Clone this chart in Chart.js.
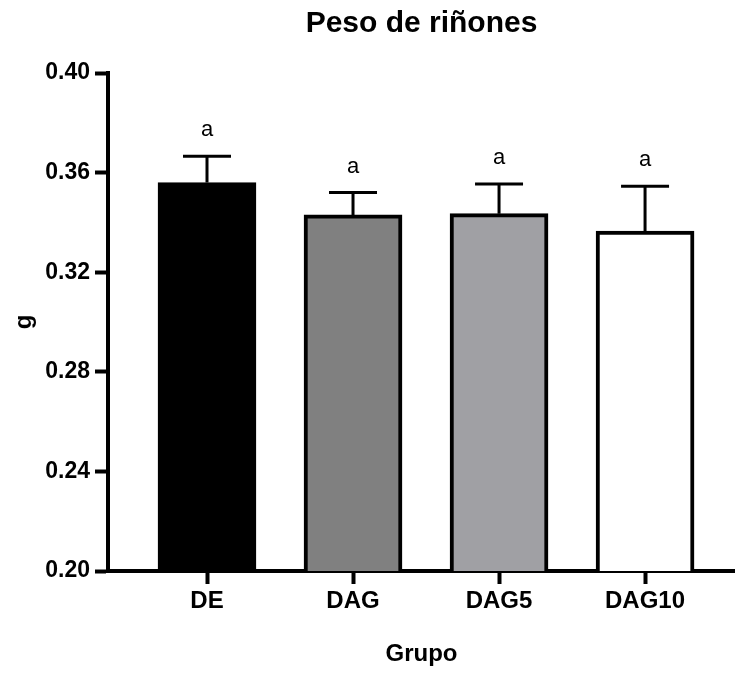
<!DOCTYPE html>
<html>
<head>
<meta charset="utf-8">
<script src="https://cdn.jsdelivr.net/npm/chart.js@4"></script>
<style>
  html, body { margin: 0; padding: 0; background: #fff; }
  #wrap { width: 735px; height: 673px; }
</style>
</head>
<body>
<div id="wrap"><canvas id="kidneyChart"></canvas></div>
<script>
// data
const grupos = ['DE', 'DAG', 'DAG5', 'DAG10'];
const pesoMedio = [0.356, 0.343, 0.3435, 0.3365];
const pesoSem = [0.0106, 0.009, 0.0119, 0.018];
const letras = ['a', 'a', 'a', 'a'];
const yTicks = [0.20, 0.24, 0.28, 0.32, 0.36, 0.40];
const barColors = ['#000000', '#808080', '#a0a0a4', '#ffffff'];

const FONT = '"Liberation Sans", Arial, sans-serif';
Chart.defaults.color = '#000';
Chart.defaults.font.family = FONT;

// upward error bars + significance letters
const errorBars = {
    id: 'errorBars',
    afterDatasetsDraw(chart) {
        const { ctx, scales: { x, y } } = chart;
        ctx.save();
        ctx.strokeStyle = '#000';
        ctx.lineWidth = 3;
        pesoMedio.forEach((m, i) => {
            const px = x.getPixelForValue(i);
            const yBase = y.getPixelForValue(m);
            const yTop = y.getPixelForValue(m + pesoSem[i]);
            ctx.beginPath();
            ctx.moveTo(px, yBase);
            ctx.lineTo(px, yTop);
            ctx.moveTo(px - 24, yTop);
            ctx.lineTo(px + 24, yTop);
            ctx.stroke();

            ctx.fillStyle = '#000';
            ctx.font = '22px ' + FONT;
            ctx.textAlign = 'center';
            ctx.textBaseline = 'middle';
            ctx.fillText(letras[i], px, yTop - 26);
        });
        ctx.restore();
    }
};

const ctx = document.getElementById('kidneyChart').getContext('2d');
new Chart(ctx, {
    type: 'bar',
    data: {
        datasets: [{
            label: 'Peso de riñones',
            data: pesoMedio.map((v, i) => ({ x: i, y: v })),
            backgroundColor: barColors,
            borderColor: '#000',
            borderWidth: 4,
            barThickness: 98
        }]
    },
    options: {
        responsive: true,
        maintainAspectRatio: false,
        animation: false,
        layout: { padding: 0 },
        plugins: {
            legend: { display: false },
            tooltip: { enabled: false },
            title: {
                display: true,
                text: 'Peso de riñones',
                fullSize: false,
                font: { size: 30, weight: 'bold' },
                padding: { top: 6, bottom: 31 }
            }
        },
        scales: {
            x: {
                type: 'linear',
                min: -0.678,
                max: 3.616,
                offset: false,
                afterBuildTicks: (scale) => {
                    scale.ticks = grupos.map((g, i) => ({ value: i }));
                },
                afterFit: (scale) => { scale.height = 102; },
                ticks: {
                    callback: (v) => grupos[v],
                    font: { size: 24, weight: 'bold' },
                    padding: 3,
                    maxRotation: 0
                },
                grid: {
                    offset: false,
                    drawOnChartArea: false,
                    tickLength: 13,
                    tickWidth: 4,
                    tickColor: '#000'
                },
                border: { color: '#000', width: 4 },
                title: {
                    display: true,
                    text: 'Grupo',
                    font: { size: 24, weight: 'bold' },
                    padding: { top: 0, bottom: 4 }
                }
            },
            y: {
                min: 0.2,
                max: 0.4,
                afterBuildTicks: (scale) => {
                    scale.ticks = yTicks.map(v => ({ value: v }));
                },
                afterFit: (scale) => { scale.width = 108; },
                ticks: {
                    callback: (v) => v.toFixed(2),
                    font: { size: 23, weight: 'bold' },
                    padding: 5
                },
                grid: {
                    drawOnChartArea: false,
                    tickLength: 13,
                    tickWidth: 4,
                    tickColor: '#000'
                },
                border: { color: '#000', width: 4 },
                title: {
                    display: true,
                    text: 'g',
                    font: { size: 24, weight: 'bold' },
                    padding: { top: 10, bottom: 0 }
                }
            }
        }
    },
    plugins: [errorBars]
});
</script>
</body>
</html>
